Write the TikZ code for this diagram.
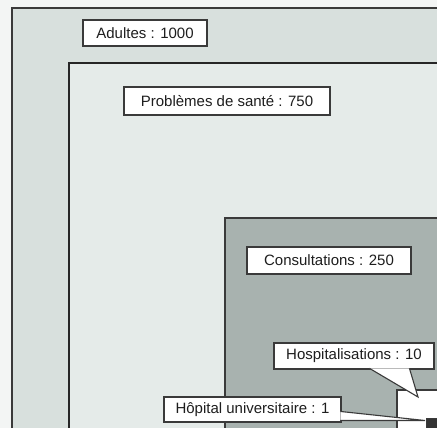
\documentclass[tikz,border=0pt]{standalone}
\usepackage{fontspec}
\setmainfont{Liberation Sans}
\usetikzlibrary{calc}
\definecolor{pagebg}{HTML}{F3F5F4}
\definecolor{bandA}{HTML}{D8E0DD}
\definecolor{bandB}{HTML}{E5EBE9}
\definecolor{bandC}{HTML}{A8B2AF}
\definecolor{edge}{HTML}{3A3A3A}
\definecolor{ink}{HTML}{1E1E1E}
\tikzset{
  region/.style={draw=edge, line width=1.5pt},
  labelbox/.style={draw=edge, fill=white, line width=1.1pt, inner sep=0pt,
    text=ink, font=\fontsize{15}{18}\selectfont, anchor=center},
  pointer/.style={draw=edge, fill=white, line width=1.1pt, line join=miter}
}
\begin{document}
\begin{tikzpicture}[x=1pt,y=-1pt]
\useasboundingbox (0,0) rectangle (437,428);
\clip (0,0) rectangle (437,428);
\fill[pagebg] (0,0) rectangle (437,428);
% nested regions
\filldraw[region, fill=bandA] (12,8) rectangle (470,470);
\filldraw[region, fill=bandB, draw=black!85] (69,63) rectangle (470,470);
\filldraw[region, fill=bandC, line width=2pt] (225,218) rectangle (470,470);
\filldraw[region, fill=white, line width=1.2pt] (397,390) rectangle (470,470);
\filldraw[fill=black!80, draw=edge, line width=1pt] (426,418) rectangle (470,470);
% labels
\node[labelbox, minimum width=124pt, minimum height=26pt] (adultes) at (145,33) {Adultes : 1000};
\node[labelbox, minimum width=206pt, minimum height=28pt] (sante) at (227,101) {Problèmes de santé : 750};
\node[labelbox, minimum width=164pt, minimum height=27pt] (consult) at (329,260.5) {Consultations : 250};
\node[labelbox, minimum width=160pt, minimum height=26pt] (hosp) at (354,356) {Hospitalisations : 10};
\node[labelbox, minimum width=177pt, minimum height=25pt] (chu) at (252.5,409.5) {Hôpital universitaire : 1};
% pointer tips
\coordinate (hosptip) at (418,397);
\coordinate (chutip) at (425,420.5);
% callout pointers
\coordinate (hb1) at ($(hosp.south west)+(96,-1.2)$);
\coordinate (hb2) at ($(hosp.south west)+(136,-1.2)$);
\filldraw[pointer] (hb1) -- (hosptip) -- (hb2);
\coordinate (cb1) at ($(chu.north east)+(-1.2,15)$);
\coordinate (cb2) at ($(chu.north east)+(-1.2,24)$);
\filldraw[pointer] (cb1) -- (chutip) -- (cb2);
\end{tikzpicture}
\end{document}
